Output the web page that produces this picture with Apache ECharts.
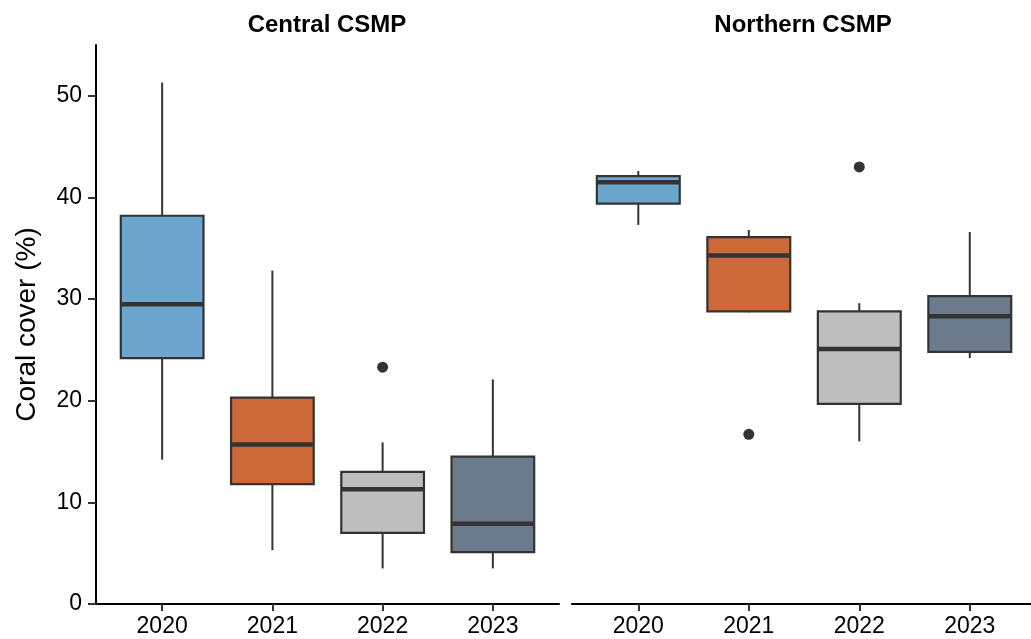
<!DOCTYPE html>
<html>
<head>
<meta charset="utf-8">
<title>Coral cover by year</title>
<script src="https://cdn.jsdelivr.net/npm/echarts@6/dist/echarts.min.js"></script>
<style>
  html, body { margin: 0; padding: 0; background: #ffffff; }
  #chart { width: 1031px; height: 639px; }
</style>
</head>
<body>
<div id="chart"></div>
<script>
// Survey years (x categories)
const years = ['2020', '2021', '2022', '2023'];

// Box summaries per year: [lower whisker, Q1, median, Q3, upper whisker]
const centralStats = [
  [14.2, 24.2, 29.5, 38.2, 51.3],
  [5.3, 11.8, 15.7, 20.3, 32.8],
  [3.5, 7.0, 11.3, 13.0, 15.9],
  [3.5, 5.1, 7.9, 14.5, 22.1]
];
const northernStats = [
  [37.3, 39.4, 41.5, 42.1, 42.6],
  [28.7, 28.8, 34.3, 36.1, 36.8],
  [16.0, 19.7, 25.1, 28.8, 29.6],
  [24.2, 24.8, 28.3, 30.3, 36.6]
];

// Outlying sites: [year, coral cover]
const centralOutliers = [['2022', 23.3]];
const northernOutliers = [['2021', 16.7], ['2022', 43.0]];

// Y axis tick values
const yTicks = [0, 10, 20, 30, 40, 50];

// Fill colour for each year
const yearFills = ['#6CA6CD', '#CD6839', '#BEBEBE', '#6C7B8B'];

const panelTitles = ['Central CSMP', 'Northern CSMP'];

const BOX_WIDTH = 0.75;
const INK = '#333333';
const FONT = '"Liberation Sans", Arial, Helvetica, sans-serif';

const xPositions = years.map((y, i) => i + 1);

function boxData(stats) {
  return stats.map((s, i) => [i + 1].concat(s));
}
function outlierData(list) {
  return list.map(o => [years.indexOf(o[0]) + 1, o[1]]);
}

function renderBox(params, api) {
  const x = api.value(0);
  const lo = api.value(1), q1 = api.value(2), med = api.value(3), q3 = api.value(4), hi = api.value(5);
  const half = BOX_WIDTH / 2;
  const topLeft = api.coord([x - half, q3]);
  const botRight = api.coord([x + half, q1]);
  const medL = api.coord([x - half, med]);
  const medR = api.coord([x + half, med]);
  const wTop = api.coord([x, hi]);
  const wQ3 = api.coord([x, q3]);
  const wQ1 = api.coord([x, q1]);
  const wBot = api.coord([x, lo]);
  const lineStyle = { stroke: INK, lineWidth: 2, fill: null };
  return {
    type: 'group',
    children: [
      { type: 'line', shape: { x1: wTop[0], y1: wTop[1], x2: wQ3[0], y2: wQ3[1] }, style: lineStyle },
      { type: 'line', shape: { x1: wQ1[0], y1: wQ1[1], x2: wBot[0], y2: wBot[1] }, style: lineStyle },
      {
        type: 'rect',
        shape: { x: topLeft[0], y: topLeft[1], width: botRight[0] - topLeft[0], height: botRight[1] - topLeft[1] },
        style: { fill: yearFills[params.dataIndex], stroke: INK, lineWidth: 2.2 }
      },
      { type: 'line', shape: { x1: medL[0], y1: medL[1], x2: medR[0], y2: medR[1] }, style: { stroke: INK, lineWidth: 4.5 } }
    ]
  };
}

// Left panel shows the full band range; right panel runs off the page edge,
// so its axis stops a little short of the upper limit at the same band spacing.
const grids = [
  { left: 96, top: 45, width: 463, height: 559 },
  { left: 572, top: 45, width: 459, height: 559 }
];
const xMax = [4.6, 4.554];

function makeXAxis(gridIndex) {
  return {
    type: 'value',
    gridIndex: gridIndex,
    min: 0.4,
    max: xMax[gridIndex],
    splitLine: { show: false },
    axisLine: { show: true, onZero: false, lineStyle: { color: '#000000', width: 2 } },
    axisTick: { show: true, customValues: xPositions, length: 7, lineStyle: { color: INK, width: 2 } },
    axisLabel: {
      customValues: xPositions,
      formatter: v => years[Math.round(v) - 1],
      color: '#000000',
      fontFamily: FONT,
      fontSize: 23,
      margin: 11
    }
  };
}

function makeYAxis(gridIndex, visible) {
  return {
    type: 'value',
    gridIndex: gridIndex,
    min: 0,
    max: 55,
    name: visible ? 'Coral cover (%)' : '',
    nameLocation: 'middle',
    nameRotate: 90,
    nameGap: 55,
    nameTextStyle: { color: '#000000', fontFamily: FONT, fontSize: 28 },
    splitLine: { show: false },
    axisLine: { show: visible, lineStyle: { color: '#000000', width: 2 } },
    axisTick: { show: visible, customValues: yTicks, length: 8, lineStyle: { color: INK, width: 2 } },
    axisLabel: {
      show: visible,
      customValues: yTicks,
      color: '#000000',
      fontFamily: FONT,
      fontSize: 23,
      margin: 14
    }
  };
}

const option = {
  backgroundColor: '#ffffff',
  animation: false,
  title: panelTitles.map((t, i) => ({
    text: t,
    left: grids[i].left + 226,
    top: 8,
    textAlign: 'center',
    textStyle: { fontFamily: FONT, fontSize: 24, fontWeight: 'bold', color: '#000000' }
  })),
  grid: grids,
  xAxis: [makeXAxis(0), makeXAxis(1)],
  yAxis: [makeYAxis(0, true), makeYAxis(1, false)],
  series: [
    {
      type: 'custom',
      xAxisIndex: 0, yAxisIndex: 0,
      renderItem: renderBox,
      encode: { x: 0, y: [1, 2, 3, 4, 5] },
      data: boxData(centralStats)
    },
    {
      type: 'custom',
      xAxisIndex: 1, yAxisIndex: 1,
      renderItem: renderBox,
      encode: { x: 0, y: [1, 2, 3, 4, 5] },
      data: boxData(northernStats)
    },
    {
      type: 'scatter',
      xAxisIndex: 0, yAxisIndex: 0,
      symbolSize: 11,
      itemStyle: { color: INK, opacity: 1 },
      data: outlierData(centralOutliers)
    },
    {
      type: 'scatter',
      xAxisIndex: 1, yAxisIndex: 1,
      symbolSize: 11,
      itemStyle: { color: INK, opacity: 1 },
      data: outlierData(northernOutliers)
    }
  ]
};

const chart = echarts.init(document.getElementById('chart'), null, { renderer: 'canvas' });
chart.setOption(option);
</script>
</body>
</html>
